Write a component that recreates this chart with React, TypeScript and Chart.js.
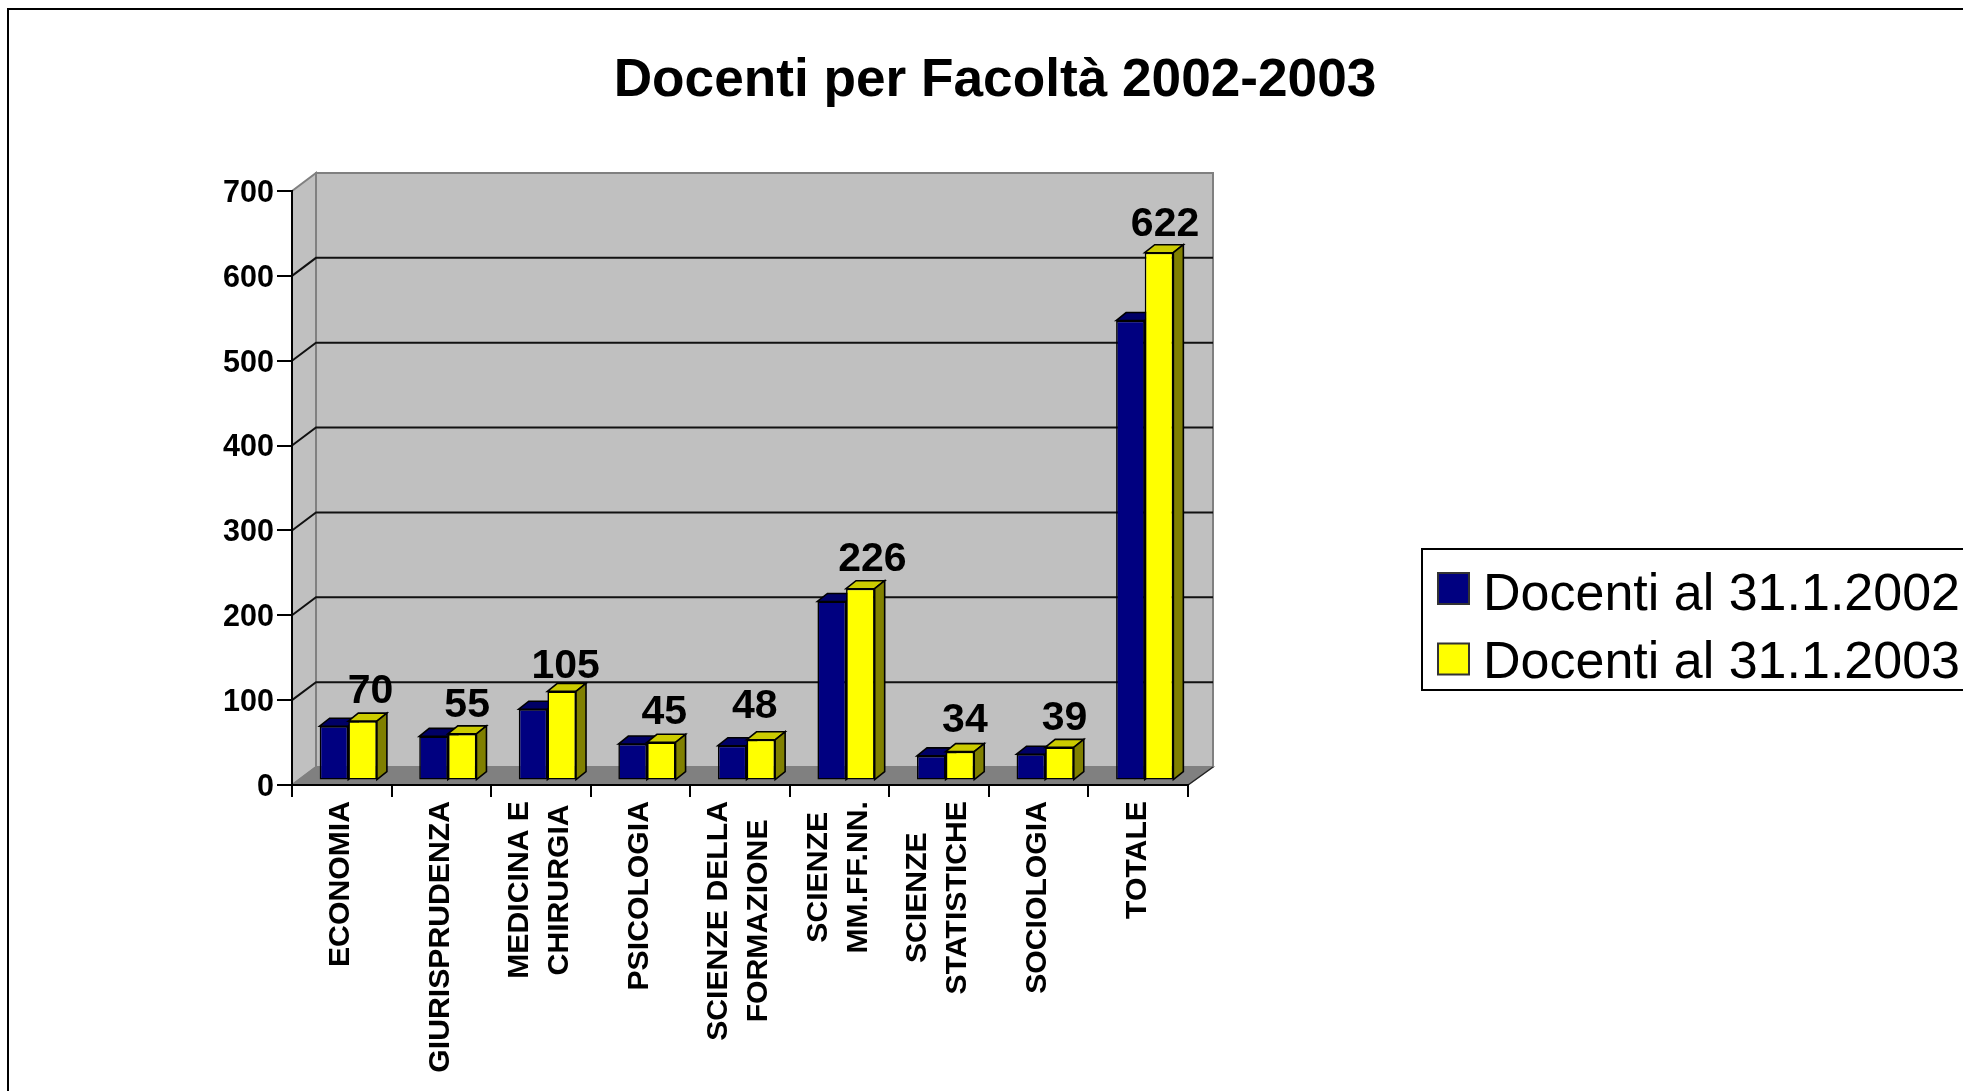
import React, { useEffect, useRef } from "react";
import { Chart, registerables } from "chart.js";

Chart.register(...registerables);

const categories: string[][] = [
  ["ECONOMIA"],
  ["GIURISPRUDENZA"],
  ["MEDICINA E", "CHIRURGIA"],
  ["PSICOLOGIA"],
  ["SCIENZE DELLA", "FORMAZIONE"],
  ["SCIENZE", "MM.FF.NN."],
  ["SCIENZE", "STATISTICHE"],
  ["SOCIOLOGIA"],
  ["TOTALE"],
];
const docenti2002 = [64, 52, 84, 43, 41, 211, 29, 31, 542];
const docenti2003 = [70, 55, 105, 45, 48, 226, 34, 39, 622];
const seriesNames = ["Docenti al 31.1.2002", "Docenti al 31.1.2003"];
const titleText = "Docenti per Facoltà 2002-2003";

const FONT = '"Liberation Sans", Arial, sans-serif';
const CANVAS_W = 1990;
const CANVAS_H = 1091;
const AREA = { left: 292, right: 1188, top: 191, bottom: 785 };
const WALL = { dx: 24, dy: -18 };
const BAR_SHIFT = { dx: 6.5, dy: -4.5 };
const BAR_DEPTH = { dx: 10, dy: -8 };
const LABEL_NUDGE_X = [8, 5, 4, 3, -6, 12, 5, 5, 6];
const LABEL_NUDGE_Y = [1.5, 2.5, 6, 1.5, -2, 1.5, 0.5, 2.5, 3];
const SHADES = [
  { top: "#000066", side: "#000060", face: "#000080" },
  { top: "#cccc00", side: "#808000", face: "#ffff00" },
];

function poly(ctx: CanvasRenderingContext2D, pts: number[][], fill: string, stroke: string, lw: number) {
  ctx.beginPath();
  pts.forEach((p, i) => (i ? ctx.lineTo(p[0], p[1]) : ctx.moveTo(p[0], p[1])));
  ctx.closePath();
  ctx.fillStyle = fill;
  ctx.fill();
  ctx.strokeStyle = stroke;
  ctx.lineWidth = lw;
  ctx.stroke();
}

const scenePlugin = {
  id: "scene",
  afterLayout(chart: any) {
    // the title is centred on the whole canvas, not only on the plot's column
    chart.titleBlock.left = 0;
    chart.titleBlock.right = chart.width;
  },
  beforeDraw(chart: any) {
    const { ctx, chartArea: a, scales } = chart;
    const y = scales.y;
    ctx.save();
    ctx.strokeStyle = "#000";
    ctx.lineWidth = 2;
    ctx.strokeRect(8, 9, 3000, 3000);

    const bx = a.left + WALL.dx;
    const brx = a.right + WALL.dx + 1;
    const by = a.bottom + WALL.dy;
    const ty = a.top + WALL.dy;
    poly(ctx, [[bx, ty], [brx, ty], [brx, by], [bx, by]], "#c0c0c0", "#808080", 2);
    poly(ctx, [[a.left, a.top], [bx, ty], [bx, by], [a.left, a.bottom]], "#c0c0c0", "#808080", 2);
    poly(ctx, [[a.left, a.bottom], [bx, by], [brx, by], [a.right, a.bottom]], "#808080", "#808080", 1.5);

    ctx.beginPath();
    ctx.moveTo(a.right, a.bottom);
    ctx.lineTo(brx, by);
    ctx.strokeStyle = "#222";
    ctx.lineWidth = 1.2;
    ctx.stroke();

    ctx.strokeStyle = "#111";
    ctx.lineWidth = 2;
    y.ticks.forEach((t: any) => {
      if (t.value === 0 || t.value === y.max) return;
      const py = y.getPixelForValue(t.value);
      ctx.beginPath();
      ctx.moveTo(a.left, py);
      ctx.lineTo(bx, py + WALL.dy);
      ctx.lineTo(brx, py + WALL.dy);
      ctx.stroke();
    });
    ctx.restore();
  },
  beforeDatasetsDraw(chart: any) {
    const { ctx } = chart;
    ctx.save();
    ctx.translate(BAR_SHIFT.dx, BAR_SHIFT.dy);
    chart.data.datasets.forEach((_: any, di: number) => {
      const meta = chart.getDatasetMeta(di);
      const shade = SHADES[di];
      meta.data.forEach((bar: any) => {
        const l = bar.x - bar.width / 2;
        const r = bar.x + bar.width / 2;
        const d = BAR_DEPTH;
        poly(ctx, [[l, bar.y], [l + d.dx, bar.y + d.dy], [r + d.dx, bar.y + d.dy], [r, bar.y]], shade.top, "#000", 1.6);
        poly(ctx, [[r, bar.y], [r + d.dx, bar.y + d.dy], [r + d.dx, bar.base + d.dy], [r, bar.base]], shade.side, "#000", 1.6);
      });
      meta.controller.draw();
    });
    ctx.restore();

    ctx.save();
    ctx.font = `bold 41px ${FONT}`;
    ctx.fillStyle = "#000";
    ctx.textAlign = "center";
    ctx.textBaseline = "middle";
    chart.getDatasetMeta(1).data.forEach((bar: any, i: number) => {
      const v = chart.data.datasets[1].data[i];
      ctx.fillText(String(v), bar.x + BAR_SHIFT.dx + LABEL_NUDGE_X[i], bar.y + BAR_SHIFT.dy - 31 + LABEL_NUDGE_Y[i]);
    });
    ctx.restore();
    chart.notifyPlugins("afterDatasetsDraw");
    return false;
  },
  afterDraw(chart: any) {
    const { ctx, scales } = chart;
    const x = scales.x;
    // category labels: a block read upwards, its lines centred on each other
    ctx.save();
    ctx.font = `bold 30.2px ${FONT}`;
    ctx.fillStyle = "#000";
    ctx.textAlign = "center";
    ctx.textBaseline = "middle";
    chart.data.labels.forEach((lines: string[], i: number) => {
      const cx = x.getPixelForTick(i) - 1;
      const maxW = Math.max(...lines.map((s) => ctx.measureText(s).width));
      const cy = 801 + maxW / 2;
      lines.forEach((s, k) => {
        ctx.save();
        ctx.translate(cx + (k - (lines.length - 1) / 2) * 40, cy);
        ctx.rotate(-Math.PI / 2);
        ctx.fillText(s, 0, 0);
        ctx.restore();
      });
    });
    ctx.restore();

    // legend, built from the datasets
    ctx.save();
    ctx.strokeStyle = "#000";
    ctx.lineWidth = 2;
    ctx.strokeRect(1422, 549, 800, 141);
    ctx.font = `52px ${FONT}`;
    ctx.textAlign = "left";
    ctx.textBaseline = "middle";
    chart.data.datasets.forEach((ds: any, i: number) => {
      const top = 573 + i * 70.5;
      ctx.fillStyle = ds.backgroundColor;
      ctx.fillRect(1438, top, 31, 31);
      ctx.strokeStyle = "#333";
      ctx.lineWidth = 2;
      ctx.strokeRect(1438, top, 31, 31);
      ctx.fillStyle = "#000";
      ctx.fillText(ds.label, 1483, 596 + i * 67.5);
    });
    ctx.restore();
  },
};

export default function App() {
  const ref = useRef<HTMLCanvasElement | null>(null);
  useEffect(() => {
    if (!ref.current) return;
    const chart = new Chart(ref.current, {
      type: "bar",
      data: {
        labels: categories as any,
        datasets: [
          { label: seriesNames[0], data: docenti2002, backgroundColor: SHADES[0].face, borderColor: "#000", borderWidth: 1.6, borderSkipped: false, categoryPercentage: 0.575, barPercentage: 1 },
          { label: seriesNames[1], data: docenti2003, backgroundColor: SHADES[1].face, borderColor: "#000", borderWidth: 1.6, borderSkipped: false, categoryPercentage: 0.575, barPercentage: 1 },
        ],
      },
      options: {
        responsive: false,
        animation: false,
        devicePixelRatio: 1,
        layout: { padding: { left: 0, top: 0, bottom: 0, right: CANVAS_W - AREA.right } },
        plugins: {
          legend: { display: false },
          tooltip: { enabled: false },
          title: {
            display: true,
            text: titleText,
            color: "#000",
            font: { family: FONT, size: 53.2, weight: "bold", lineHeight: 1.2 },
            padding: { top: 49.5, bottom: AREA.top - 49.5 - 63.84 },
          },
        },
        scales: {
          x: {
            afterFit: (s: any) => { s.height = CANVAS_H - AREA.bottom; },
            grid: { display: true, drawOnChartArea: false, drawTicks: true, tickLength: 12, color: "#000", lineWidth: 2 },
            border: { display: true, color: "#000", width: 2 },
            ticks: { display: false },
          },
          y: {
            min: 0,
            max: 700,
            afterFit: (s: any) => { s.width = AREA.left; },
            grid: { display: true, drawOnChartArea: false, drawTicks: true, tickLength: 15, color: "#000", lineWidth: 2 },
            border: { display: true, color: "#000", width: 2 },
            ticks: {
              stepSize: 100,
              color: "#000",
              padding: 3,
              // an empty first line with a small line height lowers the number by half of it
              callback: (v: any) => ["", String(v)],
              font: { family: FONT, size: 30.5, weight: "bold", lineHeight: "5px" },
            },
          },
        },
      } as any,
      plugins: [scenePlugin as any],
    });
    return () => chart.destroy();
  }, []);
  return (
    <div style={{ position: "fixed", left: 0, top: 0, width: 1963, height: 1091, overflow: "hidden", background: "#fff" }}>
      <canvas ref={ref} width={CANVAS_W} height={CANVAS_H} style={{ display: "block" }} />
    </div>
  );
}
